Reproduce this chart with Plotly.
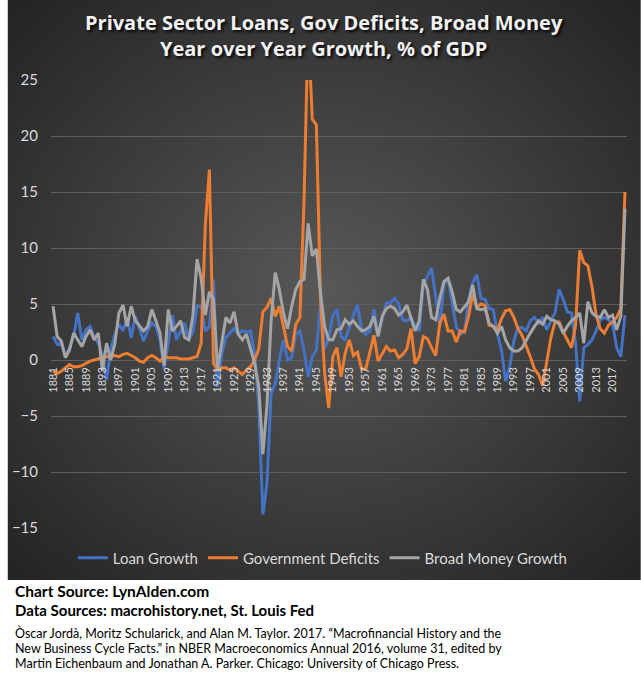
import base64
import plotly.graph_objects as go

years = list(range(1881, 2021))

loan_growth = [
    2.1, 1.4, 1.5, 0.3, 1.1, 2.1, 4.2, 1.8, 2.7, 3.0,
    2.0, 1.5, 0.5, -1.8, 0.9, 2.3, 3.2, 2.6, 3.8, 2.0,
    3.9, 2.7, 1.7, 2.6, 3.3, 3.0, 1.8, -0.8, 1.4, 4.0,
    1.8, 2.6, 3.3, 1.8, 2.5, 4.8, 4.8, 2.6, 3.0, 7.2,
    -2.4, 0.5, 2.0, 2.4, 2.8, 2.3, 2.6, 2.5, 2.6, 0.5,
    -4.0, -13.8, -11.0, -3.0, -2.1, 0.0, 1.8, 0.0, 0.2, 2.3,
    2.6, 0.9, -1.5, 0.3, 0.9, 5.0, 1.0, 2.0, 4.0, 4.5,
    2.1, 1.8, 3.0, 4.0, 4.9, 2.7, 2.3, 2.6, 4.5, 2.3,
    3.6, 5.1, 5.1, 5.5, 5.0, 3.6, 3.5, 3.8, 3.0, 2.6,
    6.7, 7.5, 8.2, 5.7, 3.0, 6.7, 7.3, 5.1, 3.0, 2.3,
    2.5, 5.4, 6.9, 7.6, 5.5, 5.4, 4.6, 4.5, 2.3, 0.9,
    -1.9, -0.6, 1.7, 2.9, 2.9, 2.6, 3.5, 3.8, 3.3, 3.8,
    2.7, 3.5, 4.2, 6.3, 5.4, 4.3, 4.2, 1.5, -3.7, 1.1,
    1.4, 1.8, 2.6, 3.6, 3.8, 3.6, 3.2, 1.1, 0.3, 4.0,
]

gov_deficits = [
    -1.0, -1.2, -1.0, -0.7, -0.4, -0.6, -0.6, -0.5, -0.3, -0.1,
    0.0, 0.1, 0.3, 0.3, 0.3, 0.4, 0.3, 0.5, 0.6, 0.4,
    0.2, -0.1, -0.2, 0.2, 0.4, 0.2, -0.1, 0.3, 0.2, 0.2,
    0.2, 0.1, 0.1, 0.1, 0.2, 0.3, 1.5, 12.0, 17.0, -0.3,
    -0.9, -0.7, -0.7, -0.9, -0.7, -1.0, -1.3, -0.9, -0.6, 0.0,
    1.0, 4.3, 4.7, 5.5, 3.9, 4.8, 3.0, 1.2, 0.8, 3.2,
    3.8, 14.2, 30.0, 21.5, 21.0, 5.5, -1.2, -4.3, 0.3, 1.1,
    -1.5, 0.6, 1.8, 0.4, 0.7, -0.8, -0.8, 0.6, 2.2, -0.1,
    0.6, 1.2, 0.8, 0.9, 0.2, 0.5, 1.0, 2.8, -0.3, 0.3,
    2.1, 1.9, 1.1, 0.4, 3.3, 4.1, 2.6, 2.6, 1.6, 2.6,
    2.5, 3.9, 5.9, 4.7, 5.0, 4.9, 3.1, 3.0, 2.7, 3.7,
    4.4, 4.5, 3.8, 2.8, 2.2, 1.3, 0.3, -0.8, -1.3, -2.3,
    -0.3, 2.0, 3.4, 3.4, 2.5, 1.8, 1.1, 3.1, 9.8, 8.7,
    8.4, 6.5, 4.0, 2.8, 2.4, 3.1, 3.4, 3.8, 4.6, 15.0,
]

broad_money = [
    4.8, 2.1, 1.7, 0.2, 0.9, 2.4, 1.8, 1.2, 2.1, 2.7,
    1.8, 2.4, -1.0, 1.5, 0.0, 1.4, 4.2, 4.9, 3.0, 4.8,
    3.5, 3.0, 2.6, 3.0, 4.5, 3.5, 2.4, -0.5, 4.5, 2.6,
    3.0, 3.5, 2.0, 1.8, 4.0, 9.0, 7.3, 4.0, 6.1, 5.4,
    -0.8, 1.5, 3.8, 3.3, 4.3, 2.3, 1.8, 2.3, 0.9, -0.3,
    -2.4, -8.4, -4.0, 3.5, 7.8, 6.3, 4.2, 2.8, 4.8, 6.3,
    7.0, 7.2, 12.2, 9.3, 9.9, 6.0, 3.0, 1.8, 1.8, 2.7,
    2.8, 3.6, 3.2, 3.5, 3.0, 2.6, 2.7, 3.0, 3.9, 2.1,
    3.9, 4.6, 4.8, 4.6, 4.0, 4.3, 4.9, 3.8, 2.6, 3.5,
    7.2, 6.3, 3.8, 3.6, 5.5, 7.0, 7.3, 6.1, 4.5, 4.3,
    4.8, 5.2, 6.7, 4.6, 4.5, 4.6, 3.3, 3.0, 2.4, 3.0,
    1.8, 1.1, 0.8, 0.8, 1.1, 1.8, 2.4, 3.0, 3.5, 3.2,
    3.9, 3.6, 3.5, 3.2, 2.4, 3.0, 3.5, 3.8, 4.2, 1.5,
    5.2, 4.2, 3.9, 3.8, 4.5, 3.8, 4.0, 2.7, 3.9, 13.5,
]

series_names = ["Loan Growth", "Government Deficits", "Broad Money Growth"]
series_colors = ["#4472C4", "#ED7D31", "#A5A5A5"]
y_ticks = [-15, -10, -5, 0, 5, 10, 15, 20, 25]
x_tick_years = years[::4]

title_text = "Private Sector Loans, Gov Deficits, Broad Money<br>Year over Year Growth, % of GDP"
source_lines = [
    ("<b>Chart Source: LynAlden.com</b>", 591, 15.5),
    ("<b>Data Sources: macrohistory.net, St. Louis Fed</b>", 610, 15),
    ("Òscar Jordà, Moritz Schularick, and Alan M. Taylor. 2017. “Macrofinancial History and the", 633, 12.5),
    ("New Business Cycle Facts.” in NBER Macroeconomics Annual 2016, volume 31, edited by", 648, 12.5),
    ("Martin Eichenbaum and Jonathan A. Parker. Chicago: University of Chicago Press.", 663, 12.5),
]

W, H = 641, 674
L, R, T, B = 44, 14, 80, 146
PW, PH = W - L - R, H - T - B
DARK_H = 580


def px_x(px):
    return (px - L) / PW


def px_y(py):
    return (H - B - py) / PH


svg = (
    f"<svg xmlns='http://www.w3.org/2000/svg' width='{W}' height='{DARK_H}' "
    f"viewBox='0 0 {W} {DARK_H}' preserveAspectRatio='none'>"
    "<defs><radialGradient id='g' cx='50%' cy='50%' r='72%'>"
    "<stop offset='0' stop-color='#585858'/>"
    "<stop offset='1' stop-color='#222222'/>"
    "</radialGradient></defs>"
    f"<rect width='{W}' height='{DARK_H}' fill='url(#g)'/></svg>"
)
bg_uri = "data:image/svg+xml;base64," + base64.b64encode(svg.encode()).decode()

fig = go.Figure()
for name, vals, col in zip(series_names, [loan_growth, gov_deficits, broad_money], series_colors):
    fig.add_trace(go.Scatter(
        x=years, y=vals, name=name, mode="lines",
        line=dict(color=col, width=3), hoverinfo="skip",
    ))

fig.add_layout_image(dict(
    source=bg_uri, xref="paper", yref="paper",
    x=px_x(0), y=px_y(0), sizex=W / PW, sizey=DARK_H / PH,
    xanchor="left", yanchor="top", sizing="stretch", layer="below",
))

annotations = [dict(
    text=title_text, xref="paper", yref="paper",
    x=px_x(W / 2), y=px_y(36), xanchor="center", yanchor="middle",
    showarrow=False, align="center",
    font=dict(family="Open Sans", size=20, color="#F2F2F2", weight="bold",
              shadow="2px 2px 3px rgba(0,0,0,0.9)"),
)]
for txt, py, fs in source_lines:
    annotations.append(dict(
        text=txt, xref="paper", yref="paper", x=px_x(6), y=px_y(py),
        xanchor="left", yanchor="middle", showarrow=False, align="left",
        font=dict(family="Lato", size=fs, color="#000000"),
    ))

fig.update_layout(
    width=W, height=H,
    margin=dict(l=L, r=R, t=T, b=B, pad=0),
    paper_bgcolor="#FFFFFF", plot_bgcolor="rgba(0,0,0,0)",
    showlegend=True,
    legend=dict(
        orientation="h", x=px_x(66), y=px_y(558), xanchor="left", yanchor="middle",
        font=dict(family="Lato", size=15, color="#D9D9D9"),
        bgcolor="rgba(0,0,0,0)", itemwidth=30,
    ),
    annotations=annotations,
    xaxis=dict(
        range=[1880.5, 2020.5], tickmode="array", tickvals=x_tick_years,
        ticktext=[str(y) for y in x_tick_years], tickangle=-90,
        anchor="free", position=15 / 40, showgrid=False, zeroline=False,
        showline=False, ticks="", ticklabelstandoff=4,
        tickfont=dict(family="Lato", size=11, color="#D9D9D9"),
    ),
    yaxis=dict(
        range=[-15, 25], tickmode="array", tickvals=y_ticks,
        showgrid=True, gridcolor="#5E5E5E", gridwidth=1,
        zeroline=True, zerolinecolor="#5E5E5E", zerolinewidth=1,
        showline=False, ticks="", ticklabelstandoff=12,
        tickfont=dict(family="Lato", size=15, color="#D9D9D9"),
    ),
)

fig.write_html("out.html")
